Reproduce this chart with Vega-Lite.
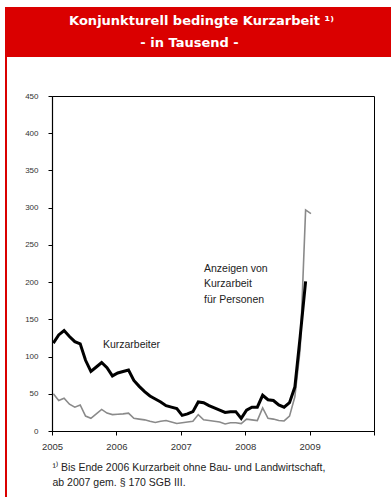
{
  "$schema": "https://vega.github.io/schema/vega-lite/v6.json",
  "padding": {"left": 5, "top": 7, "right": 0, "bottom": 0},
  "background": "white",
  "columns": 2,
  "bounds": "flush",
  "spacing": 0,
  "config": {
    "view": {"stroke": null},
    "font": "Liberation Sans",
    "axis": {"grid": false}
  },
  "concat": [
    {
      "width": 47, "height": 50,
      "view": {"fill": "#da0000", "stroke": null},
      "data": {"values": []},
      "mark": "point"
    },
    {
      "width": 339, "height": 50,
      "view": {"fill": "#da0000", "stroke": null},
      "layer": [
        {
          "data": {"values": [{"zeile": "1", "text": "Konjunkturell bedingte Kurzarbeit ¹⁾"}]},
          "mark": {"type": "text", "color": "white", "font": "DejaVu Sans", "fontWeight": "bold", "fontSize": 13, "dx": -20, "baseline": "middle"},
          "encoding": {
            "y": {"field": "zeile", "type": "ordinal", "scale": {"type": "point", "domain": ["1", "2"], "padding": 0.69}, "axis": null},
            "text": {"field": "text"}
          }
        },
        {
          "data": {"values": [{"zeile": "2", "text": "- in Tausend -"}]},
          "mark": {"type": "text", "color": "white", "font": "DejaVu Sans", "fontWeight": "bold", "fontSize": 13, "dx": -32, "baseline": "middle"},
          "encoding": {
            "y": {"field": "zeile", "type": "ordinal", "scale": {"type": "point", "domain": ["1", "2"], "padding": 0.69}, "axis": null},
            "text": {"field": "text"}
          }
        }
      ]
    },
    {
      "width": 2, "height": 39,
      "view": {"fill": "#da0000", "stroke": null},
      "data": {"values": []},
      "mark": "point"
    },
    {
      "width": 322, "height": 39,
      "data": {"values": []},
      "mark": "point"
    },
    {
      "width": 2, "height": 401,
      "view": {"fill": "#da0000", "stroke": null},
      "data": {"values": []},
      "mark": "point"
    },
    {
      "width": 322, "height": 335,
      "view": {"stroke": "#000", "strokeWidth": 1},
      "data": {"values": [
        {"jahr": 2005.021, "kurzarbeiter": 118, "anzeigen": 50},
        {"jahr": 2005.104, "kurzarbeiter": 129, "anzeigen": 41},
        {"jahr": 2005.188, "kurzarbeiter": 135, "anzeigen": 44},
        {"jahr": 2005.271, "kurzarbeiter": 127, "anzeigen": 36},
        {"jahr": 2005.354, "kurzarbeiter": 120, "anzeigen": 32},
        {"jahr": 2005.438, "kurzarbeiter": 117, "anzeigen": 35},
        {"jahr": 2005.521, "kurzarbeiter": 95, "anzeigen": 20},
        {"jahr": 2005.604, "kurzarbeiter": 80, "anzeigen": 17},
        {"jahr": 2005.688, "kurzarbeiter": 86, "anzeigen": 23},
        {"jahr": 2005.771, "kurzarbeiter": 92, "anzeigen": 29},
        {"jahr": 2005.854, "kurzarbeiter": 85, "anzeigen": 24},
        {"jahr": 2005.938, "kurzarbeiter": 74, "anzeigen": 22},
        {"jahr": 2006.021, "kurzarbeiter": 78, "anzeigen": 22.5},
        {"jahr": 2006.104, "kurzarbeiter": 80, "anzeigen": 23},
        {"jahr": 2006.188, "kurzarbeiter": 82, "anzeigen": 24},
        {"jahr": 2006.271, "kurzarbeiter": 68, "anzeigen": 17},
        {"jahr": 2006.354, "kurzarbeiter": 60, "anzeigen": 16},
        {"jahr": 2006.438, "kurzarbeiter": 53, "anzeigen": 15},
        {"jahr": 2006.521, "kurzarbeiter": 47, "anzeigen": 13},
        {"jahr": 2006.604, "kurzarbeiter": 43, "anzeigen": 11.5},
        {"jahr": 2006.688, "kurzarbeiter": 39, "anzeigen": 13},
        {"jahr": 2006.771, "kurzarbeiter": 34, "anzeigen": 14},
        {"jahr": 2006.854, "kurzarbeiter": 32, "anzeigen": 12},
        {"jahr": 2006.938, "kurzarbeiter": 30, "anzeigen": 10},
        {"jahr": 2007.021, "kurzarbeiter": 21, "anzeigen": 11},
        {"jahr": 2007.104, "kurzarbeiter": 23, "anzeigen": 12},
        {"jahr": 2007.188, "kurzarbeiter": 26, "anzeigen": 13},
        {"jahr": 2007.271, "kurzarbeiter": 39, "anzeigen": 22},
        {"jahr": 2007.354, "kurzarbeiter": 38, "anzeigen": 15},
        {"jahr": 2007.438, "kurzarbeiter": 34, "anzeigen": 14},
        {"jahr": 2007.521, "kurzarbeiter": 31, "anzeigen": 13},
        {"jahr": 2007.604, "kurzarbeiter": 28, "anzeigen": 12},
        {"jahr": 2007.688, "kurzarbeiter": 25, "anzeigen": 9.5},
        {"jahr": 2007.771, "kurzarbeiter": 26, "anzeigen": 11},
        {"jahr": 2007.854, "kurzarbeiter": 26, "anzeigen": 11},
        {"jahr": 2007.938, "kurzarbeiter": 17, "anzeigen": 10},
        {"jahr": 2008.021, "kurzarbeiter": 28, "anzeigen": 16},
        {"jahr": 2008.104, "kurzarbeiter": 32, "anzeigen": 15},
        {"jahr": 2008.188, "kurzarbeiter": 32, "anzeigen": 14},
        {"jahr": 2008.271, "kurzarbeiter": 48, "anzeigen": 31},
        {"jahr": 2008.354, "kurzarbeiter": 42, "anzeigen": 17},
        {"jahr": 2008.438, "kurzarbeiter": 41, "anzeigen": 16},
        {"jahr": 2008.521, "kurzarbeiter": 35, "anzeigen": 14},
        {"jahr": 2008.604, "kurzarbeiter": 32, "anzeigen": 13.5},
        {"jahr": 2008.688, "kurzarbeiter": 38, "anzeigen": 20},
        {"jahr": 2008.771, "kurzarbeiter": 59, "anzeigen": 46},
        {"jahr": 2008.854, "kurzarbeiter": 127, "anzeigen": 110},
        {"jahr": 2008.938, "kurzarbeiter": 201, "anzeigen": 297},
        {"jahr": 2009.021, "kurzarbeiter": null, "anzeigen": 292}
      ]},
      "encoding": {
        "x": {
          "field": "jahr", "type": "quantitative",
          "scale": {"domain": [2005, 2010], "nice": false, "zero": false},
          "axis": {
            "values": [2005, 2006, 2007, 2008, 2009, 2010],
            "format": "d",
            "labelExpr": "datum.value >= 2010 ? '' : datum.label",
            "labelFlush": false,
            "tickSize": 4, "tickColor": "#000", "domainColor": "#000", "domainWidth": 1.2,
            "labelFontSize": 9.5, "labelColor": "#333", "labelPadding": 6,
            "title": ["¹⁾ Bis Ende 2006 Kurzarbeit ohne Bau- und Landwirtschaft,", "ab 2007  gem. § 170 SGB III."],
            "titleFontSize": 10.5, "titleFontWeight": "normal", "titleColor": "#222",
            "titleAnchor": "start", "titleAlign": "left", "titlePadding": 12, "titleLineHeight": 15
          }
        }
      },
      "layer": [
        {
          "mark": {"type": "line", "color": "#8a8a8a", "strokeWidth": 1.6},
          "encoding": {
            "y": {"field": "anzeigen", "type": "quantitative", "scale": {"domain": [0, 450], "nice": false},
              "axis": {"values": [0, 50, 100, 150, 200, 250, 300, 350, 400, 450], "title": null, "tickSize": 4, "tickColor": "#000", "domainColor": "#000", "domainWidth": 1.2, "labelFontSize": 8, "labelColor": "#333", "labelPadding": 10}}
          }
        },
        {
          "mark": {"type": "line", "color": "#000", "strokeWidth": 3},
          "encoding": {
            "y": {"field": "kurzarbeiter", "type": "quantitative", "scale": {"domain": [0, 450], "nice": false},
              "axis": {"values": [0, 50, 100, 150, 200, 250, 300, 350, 400, 450], "title": null, "tickSize": 4, "tickColor": "#000", "domainColor": "#000", "domainWidth": 1.2, "labelFontSize": 8, "labelColor": "#333", "labelPadding": 10}}
          }
        },
        {
          "data": {"values": [
            {"jahr": 2005.79, "wert": 111, "label": "Kurzarbeiter"},
            {"jahr": 2007.36, "wert": 214, "label": "Anzeigen von\nKurzarbeit\nfür Personen"}
          ]},
          "mark": {"type": "text", "align": "left", "baseline": "alphabetic", "fontSize": 10.5, "lineHeight": 15.5, "lineBreak": "\n", "color": "#222"},
          "encoding": {
            "y": {"field": "wert", "type": "quantitative", "scale": {"domain": [0, 450], "nice": false},
              "axis": {"values": [0, 50, 100, 150, 200, 250, 300, 350, 400, 450], "title": null, "tickSize": 4, "tickColor": "#000", "domainColor": "#000", "domainWidth": 1.2, "labelFontSize": 8, "labelColor": "#333", "labelPadding": 10}},
            "text": {"field": "label"}
          }
        }
      ]
    }
  ]
}
